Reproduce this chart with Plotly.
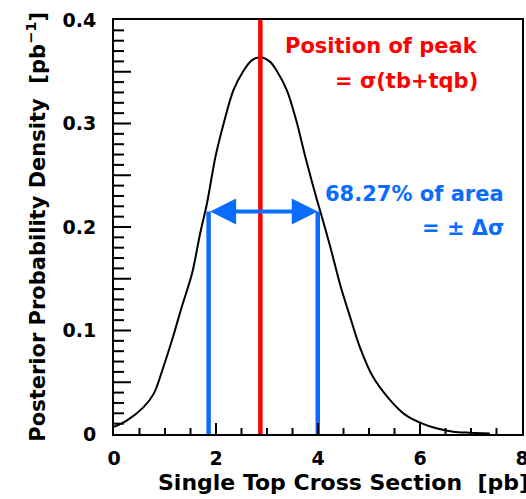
import plotly.graph_objects as go

# ---- data ----
cross_section = [0.0, 0.25, 0.58, 0.78, 0.97, 1.14, 1.33, 1.53, 1.69, 1.82, 1.99, 2.15,
                 2.34, 2.54, 2.70, 2.87, 3.05, 3.19, 3.39, 3.59, 3.75, 3.98, 4.04, 4.24,
                 4.43, 4.63, 4.82, 5.08, 5.41, 5.70, 6.00, 6.32, 6.65, 6.98, 7.37]
density = [0.007, 0.013, 0.026, 0.039, 0.065, 0.091, 0.123, 0.155, 0.194, 0.222, 0.268, 0.300,
           0.332, 0.351, 0.361, 0.364, 0.360, 0.351, 0.332, 0.300, 0.268, 0.226, 0.216, 0.181,
           0.145, 0.113, 0.084, 0.055, 0.033, 0.019, 0.011, 0.0055, 0.0022, 0.0012, 0.0005]

peak_position = 2.87
interval_low = 1.855
interval_high = 3.995
interval_level = 0.215

x_range = [0, 8]
y_range = [0, 0.4]
x_tick_vals = [0, 2, 4, 6, 8]
x_tick_text = ["0", "2", "4", "6", "8"]
x_minor_step = 0.5
y_tick_vals = [0, 0.1, 0.2, 0.3, 0.4]
y_tick_text = ["0", "0.1", "0.2", "0.3", "0.4"]
y_major_step = 0.05
y_minor_step = 0.01

RED = "#ff0000"
BLUE = "#0a6cff"
FONT = "DejaVu Sans"

W, H = 526, 499
M = dict(l=114, r=4, t=20, b=65)
plot_w = W - M["l"] - M["r"]
plot_h = H - M["t"] - M["b"]
x_per_px = (x_range[1] - x_range[0]) / plot_w
y_per_px = (y_range[1] - y_range[0]) / plot_h

fig = go.Figure()

fig.add_trace(go.Scatter(x=cross_section, y=density, mode="lines",
                         line=dict(color="black", width=2, shape="spline", smoothing=0.9),
                         hoverinfo="skip"))
fig.add_trace(go.Scatter(x=[peak_position, peak_position], y=[y_range[0], y_range[1]],
                         mode="lines", line=dict(color=RED, width=4.5), hoverinfo="skip"))
fig.add_trace(go.Scatter(x=[interval_low, interval_low], y=[0, interval_level],
                         mode="lines", line=dict(color=BLUE, width=4.5), hoverinfo="skip"))
fig.add_trace(go.Scatter(x=[interval_high, interval_high], y=[0, interval_level],
                         mode="lines", line=dict(color=BLUE, width=4.5), hoverinfo="skip"))

# inside tick marks (ROOT style), built from the axis tick steps
tx, ty = [], []
n_xminor = int(round((x_range[1] - x_range[0]) / x_minor_step))
for i in range(1, n_xminor):
    v = x_range[0] + i * x_minor_step
    major = any(abs(v - t) < 1e-9 for t in x_tick_vals)
    tx += [v, v, None]
    ty += [y_range[0], y_range[0] + (11 if major else 6) * y_per_px, None]
n_yminor = int(round((y_range[1] - y_range[0]) / y_minor_step))
per_major = int(round(y_major_step / y_minor_step))
for i in range(1, n_yminor):
    v = y_range[0] + i * y_minor_step
    tx += [x_range[0], x_range[0] + (17 if i % per_major == 0 else 10) * x_per_px, None]
    ty += [v, v, None]
fig.add_trace(go.Scatter(x=tx, y=ty, mode="lines", line=dict(color="black", width=2),
                         hoverinfo="skip", connectgaps=False))

fig.add_annotation(x=interval_high, y=interval_level, ax=interval_low, ay=interval_level,
                   xref="x", yref="y", axref="x", ayref="y", text="",
                   showarrow=True, arrowside="end+start", arrowhead=2, startarrowhead=2,
                   arrowwidth=4, arrowsize=1.3, startarrowsize=1.3, arrowcolor=BLUE,
                   standoff=0, startstandoff=0)

txt_font_red = dict(family=FONT, size=21, color=RED, weight="bold")
txt_font_blue = dict(family=FONT, size=21, color=BLUE, weight="bold")
fig.add_annotation(x=7.18, y=0.3745, xref="x", yref="y", text="Position of peak",
                   showarrow=False, xanchor="right", yanchor="middle", font=txt_font_red)
fig.add_annotation(x=7.18, y=0.341, xref="x", yref="y", text="= σ(tb+tqb)",
                   showarrow=False, xanchor="right", yanchor="middle", font=txt_font_red)
fig.add_annotation(x=7.69, y=0.2317, xref="x", yref="y", text="68.27% of area",
                   showarrow=False, xanchor="right", yanchor="middle", font=txt_font_blue)
fig.add_annotation(x=7.69, y=0.199, xref="x", yref="y", text="= ± Δσ",
                   showarrow=False, xanchor="right", yanchor="middle", font=txt_font_blue)

title_font = dict(family=FONT, size=22, color="black", weight="bold")
fig.add_annotation(x=1.022, y=-0.118, xref="paper", yref="paper",
                   text="Single Top Cross Section  [pb]", showarrow=False,
                   xanchor="right", yanchor="middle", font=title_font)
fig.add_annotation(x=-0.19, y=0.502, xref="paper", yref="paper", textangle=-90,
                   text="Posterior Probability Density  [pb<sup>−1</sup>]", showarrow=False,
                   xanchor="center", yanchor="middle", font=dict(title_font, size=21))

tick_font = dict(family=FONT, size=19, color="black", weight="bold")
fig.update_layout(
    template="none",
    xaxis=dict(range=x_range, tickmode="array", tickvals=x_tick_vals, ticktext=x_tick_text,
               ticks="", ticklabelstandoff=6, automargin=False,
               showline=True, linecolor="black", linewidth=2, mirror=True,
               showgrid=False, zeroline=False, tickfont=tick_font,
               ticklabeloverflow="allow"),
    yaxis=dict(range=y_range, tickmode="array", tickvals=y_tick_vals, ticktext=y_tick_text,
               ticks="", ticklabelstandoff=12, automargin=False,
               showline=True, linecolor="black", linewidth=2, mirror=True,
               showgrid=False, zeroline=False, tickfont=tick_font),
    width=W, height=H, margin=M,
    paper_bgcolor="white", plot_bgcolor="white", showlegend=False,
)

fig.write_html("out.html")
